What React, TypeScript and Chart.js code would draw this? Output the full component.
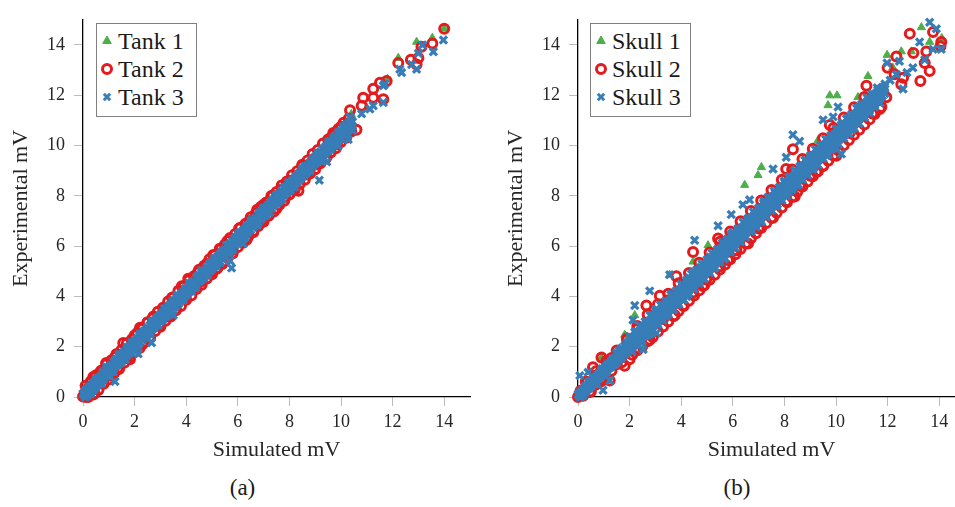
import React, { useEffect, useRef } from 'react';
import { Chart, registerables } from 'chart.js';

Chart.register(...registerables);

// ---------- data ----------
const X_TICKS = [0, 2, 4, 6, 8, 10, 12, 14];
const Y_TICKS = [0, 2, 4, 6, 8, 10, 12, 14];
const AXIS_MIN = 0;
const AXIS_MAX = 15;

const LEFT_LABELS = ['Tank 1', 'Tank 2', 'Tank 3'];
const RIGHT_LABELS = ['Skull 1', 'Skull 2', 'Skull 3'];
const CAPTIONS = ['(a)', '(b)'];
const X_TITLE = 'Simulated mV';
const Y_TITLE = 'Experimental mV';

type P = [number, number];

const TANK_1: P[] = [
  [0.1, 0.1], [0.5, 0.55], [1.0, 1.05], [1.5, 1.6], [2.0, 2.05], [2.5, 2.6], [3.0, 3.1],
  [3.5, 3.6], [4.0, 4.2], [4.5, 4.7], [5.0, 5.2], [5.5, 5.8], [6.0, 6.2], [6.5, 6.8],
  [7.0, 7.3], [7.5, 7.8], [8.0, 8.4], [8.5, 8.9], [9.0, 9.4], [9.5, 9.9], [10.0, 10.4],
  [10.4, 11.25], [11.0, 11.5], [11.8, 12.65], [12.22, 13.48], [12.93, 14.12], [13.54, 14.28],
  [14.0, 14.65],
];

const TANK_2_SPREAD: P[] = [
  [0.0, 0.02], [0.12, 0.0], [0.22, 0.38], [0.4, 0.8], [0.45, 0.15], [0.65, 0.95], [0.78, 0.55],
  [0.9, 1.35], [1.05, 0.85], [1.25, 1.6], [1.35, 1.15], [1.56, 2.15], [1.7, 1.55], [1.82, 1.5],
  [2.0, 2.45], [2.21, 2.75], [2.3, 2.1], [2.5, 2.95], [2.6, 2.4], [2.73, 3.2], [2.95, 2.85],
  [3.15, 3.55], [3.3, 3.2], [3.45, 3.95], [3.6, 3.5], [3.83, 4.4], [3.95, 3.95], [4.08, 4.7],
  [4.3, 4.3], [4.45, 4.95], [4.6, 4.6], [4.8, 5.3], [4.95, 4.95], [5.05, 5.65], [5.18, 5.1],
  [5.35, 5.9], [5.5, 5.4], [5.6, 6.2], [5.8, 5.85], [6.05, 6.7], [6.2, 6.2], [6.34, 6.25],
  [6.45, 7.0], [6.6, 6.6], [6.75, 7.45], [6.9, 6.95], [7.0, 7.65], [7.2, 7.25], [7.35, 8.0],
  [7.5, 7.5], [7.7, 8.25], [7.85, 7.95], [8.0, 8.6], [8.15, 8.3], [8.35, 8.2], [8.5, 9.2],
  [8.7, 8.85], [8.95, 9.46], [9.1, 9.25], [9.26, 9.6], [9.45, 9.55], [9.6, 10.3], [9.71, 10.43],
  [9.85, 10.05], [10.0, 10.75], [10.1, 10.35], [10.35, 11.4], [10.3, 10.55], [10.6, 10.63],
  [10.8, 11.58], [10.86, 11.9], [11.25, 11.9], [11.25, 12.26], [11.51, 12.5], [11.64, 11.84],
  [11.77, 12.57], [12.22, 13.28], [12.71, 13.41], [12.93, 13.22], [13.0, 13.48], [13.12, 13.93],
  [13.54, 14.06], [14.0, 14.64],
];
const TANK_2_RIM: P[] = [
  [0.1, 0.45], [0.3, 0.62], [0.5, 0.86], [0.7, 1.04], [0.9, 1.3], [1.1, 1.46], [1.3, 1.71],
  [1.5, 1.88], [1.7, 2.14], [1.9, 2.3], [2.1, 2.55], [2.3, 2.71], [2.5, 2.97], [2.7, 3.13],
  [2.9, 3.39], [3.1, 3.55], [3.3, 3.8], [3.5, 3.97], [3.7, 4.23], [3.9, 4.39], [4.1, 4.64],
  [4.3, 4.8], [4.5, 5.06], [4.7, 5.22], [4.9, 5.48], [5.1, 5.64], [5.3, 5.9], [5.5, 6.06],
  [5.7, 6.32], [5.9, 6.48], [6.1, 6.73], [6.3, 6.89], [6.5, 7.15], [6.7, 7.31], [6.9, 7.57],
  [7.1, 7.73], [7.3, 7.99], [7.5, 8.15], [7.7, 8.41], [7.9, 8.57], [8.1, 8.82], [8.3, 8.98],
  [8.5, 9.24], [8.7, 9.4], [8.9, 9.66], [9.1, 9.82], [9.3, 10.08], [9.5, 10.24], [9.7, 10.5],
  [9.9, 10.66], [10.1, 10.91], [10.3, 11.07],
  [0.2, 0.0], [0.4, 0.1], [0.6, 0.28], [0.8, 0.53], [1.0, 0.7], [1.2, 0.94], [1.4, 1.11],
  [1.6, 1.36], [1.8, 1.53], [2.0, 1.78], [2.2, 1.95], [2.4, 2.2], [2.6, 2.37], [2.8, 2.62],
  [3.0, 2.79], [3.2, 3.03], [3.4, 3.2], [3.6, 3.45], [3.8, 3.62], [4.0, 3.87], [4.2, 4.04],
  [4.4, 4.29], [4.6, 4.46], [4.8, 4.71], [5.0, 4.88], [5.2, 5.12], [5.4, 5.29], [5.6, 5.54],
  [5.8, 5.71], [6.0, 5.96], [6.2, 6.13], [6.4, 6.38], [6.6, 6.55], [6.8, 6.8], [7.0, 6.97],
  [7.2, 7.21], [7.4, 7.38], [7.6, 7.63], [7.8, 7.8], [8.0, 8.05], [8.2, 8.22], [8.4, 8.47],
  [8.6, 8.64], [8.8, 8.89], [9.0, 9.06], [9.2, 9.3], [9.4, 9.47], [9.6, 9.72], [9.8, 9.89],
  [10.0, 10.14], [10.2, 10.31], [10.4, 10.56],
];

const TANK_3_SPREAD: P[] = [
  [0.02, 0.14], [0.08, 0.0], [0.12, 0.31], [0.18, 0.07], [0.25, 0.41], [0.3, 0.13], [0.36, 0.47],
  [0.42, 0.29], [0.5, 0.73], [0.56, 0.49], [0.63, 0.74], [0.7, 0.53], [0.78, 1.0], [0.85, 0.83],
  [0.92, 1.18], [1.0, 0.9], [1.08, 1.25], [1.16, 1.0], [1.25, 1.46], [1.24, 0.62], [1.32, 1.29],
  [1.4, 1.7], [1.48, 1.37], [1.56, 1.69], [1.64, 1.49], [1.72, 1.98], [1.8, 1.8], [1.88, 2.17],
  [1.96, 1.9], [2.04, 2.22], [2.14, 1.72], [2.12, 2.01], [2.2, 2.52], [2.28, 2.29], [2.36, 2.62],
  [2.44, 2.37], [2.52, 2.71], [2.6, 2.5], [2.66, 2.16], [2.68, 3.01], [2.76, 2.76], [2.84, 3.12],
  [2.92, 2.85], [3.0, 3.24], [3.08, 3.07], [3.16, 3.52], [3.24, 3.31], [3.32, 3.62], [3.4, 3.34],
  [3.5, 3.25], [3.48, 3.82], [3.56, 3.63], [3.64, 4.04], [3.72, 3.74], [3.8, 4.05], [3.88, 3.85],
  [3.96, 4.32], [4.04, 4.16], [4.12, 4.52], [4.2, 4.21], [4.28, 4.59], [4.36, 4.34], [4.44, 4.79],
  [4.52, 4.63], [4.6, 5.03], [4.68, 4.74], [4.76, 5.03], [4.84, 4.85], [4.92, 5.32], [5.0, 5.15],
  [5.08, 5.52], [5.16, 5.21], [5.24, 5.6], [5.32, 5.34], [5.4, 5.79], [5.48, 5.64], [5.56, 6.03],
  [5.64, 5.74], [5.76, 5.13], [5.7, 5.42], [5.72, 6.06], [5.8, 5.85], [5.88, 6.32], [5.96, 6.15],
  [6.04, 6.52], [6.12, 6.22], [6.2, 6.6], [6.21, 6.1], [6.28, 6.34], [6.36, 6.8], [6.44, 6.64],
  [6.52, 7.02], [6.6, 6.75], [6.68, 7.06], [6.76, 6.85], [6.84, 7.33], [6.92, 7.15], [7.0, 7.53],
  [7.08, 7.22], [7.16, 7.6], [7.24, 7.35], [7.32, 7.8], [7.4, 7.64], [7.48, 8.03], [7.56, 7.75],
  [7.64, 8.06], [7.72, 7.86], [7.8, 8.33], [7.88, 8.15], [7.96, 8.53], [8.04, 8.22], [8.12, 8.61],
  [8.2, 8.35], [8.3, 8.82], [8.4, 8.69], [8.6, 9.18], [8.5, 9.09], [8.6, 8.84], [8.7, 9.17],
  [8.8, 8.99], [9.16, 8.62], [8.9, 9.45], [9.0, 9.29], [9.1, 9.69], [9.2, 9.4], [9.45, 9.35],
  [9.3, 9.84], [9.4, 9.74], [9.5, 10.14], [9.6, 9.85], [9.89, 9.98], [9.7, 10.29], [9.8, 10.15],
  [9.9, 10.53], [10.0, 10.3], [10.1, 10.76], [10.2, 10.45], [10.28, 10.24], [10.3, 10.88],
  [10.4, 10.79], [10.45, 10.6], [10.35, 11.14], [10.8, 11.26], [11.12, 11.45], [11.25, 11.58],
  [11.64, 11.71], [11.64, 12.38], [11.7, 12.45], [12.28, 13.03], [12.35, 12.9], [12.74, 13.22],
  [12.93, 13.03], [13.0, 13.67], [13.16, 14.0], [13.58, 13.73], [13.97, 14.2],
];
const TANK_3_CORE: P[] = [
  [0.05, 0.08], [0.15, 0.13], [0.25, 0.28], [0.35, 0.35], [0.45, 0.49], [0.55, 0.55], [0.65, 0.7],
  [0.75, 0.76], [0.85, 0.91], [0.95, 0.97], [1.05, 1.12], [1.15, 1.18], [1.25, 1.33], [1.35, 1.39],
  [1.45, 1.54], [1.55, 1.6], [1.65, 1.75], [1.75, 1.81], [1.85, 1.95], [1.95, 2.02], [2.05, 2.17],
  [2.15, 2.22], [2.25, 2.38], [2.35, 2.44], [2.45, 2.59], [2.55, 2.63], [2.65, 2.8], [2.75, 2.84],
  [2.85, 3.01], [2.95, 3.05], [3.05, 3.22], [3.15, 3.26], [3.25, 3.43], [3.35, 3.47], [3.45, 3.64],
  [3.55, 3.68], [3.65, 3.84], [3.75, 3.89], [3.85, 4.05], [3.95, 4.1], [4.05, 4.26], [4.15, 4.31],
  [4.25, 4.47], [4.35, 4.52], [4.45, 4.68], [4.55, 4.72], [4.65, 4.89], [4.75, 4.93], [4.85, 5.1],
  [4.95, 5.14], [5.05, 5.31], [5.15, 5.35], [5.25, 5.52], [5.35, 5.56], [5.45, 5.73], [5.55, 5.77],
  [5.65, 5.93], [5.75, 5.98], [5.85, 6.14], [5.95, 6.19], [6.05, 6.35], [6.15, 6.4], [6.25, 6.56],
  [6.35, 6.61], [6.45, 6.77], [6.55, 6.81], [6.65, 6.98], [6.75, 7.02], [6.85, 7.19], [6.95, 7.23],
  [7.05, 7.4], [7.15, 7.44], [7.25, 7.61], [7.35, 7.65], [7.45, 7.82], [7.55, 7.86], [7.65, 8.02],
  [7.75, 8.07], [7.85, 8.23], [7.95, 8.28], [8.05, 8.44], [8.15, 8.49], [8.25, 8.65], [8.35, 8.7],
  [8.45, 8.86], [8.55, 8.9], [8.65, 9.07], [8.75, 9.11], [8.85, 9.28], [8.95, 9.32], [9.05, 9.49],
  [9.15, 9.53], [9.25, 9.7], [9.35, 9.74], [9.45, 9.91], [9.55, 9.95], [9.65, 10.11], [9.75, 10.16],
  [9.85, 10.32], [9.95, 10.37], [10.05, 10.53], [10.15, 10.58], [10.25, 10.74], [10.35, 10.79],
  [10.45, 10.95],
  [0.0, 0.13], [0.1, 0.25], [0.2, 0.34], [0.3, 0.42], [0.4, 0.55], [0.5, 0.66], [0.6, 0.76],
  [0.7, 0.85], [0.8, 0.97], [0.9, 1.08], [1.0, 1.18], [1.1, 1.27], [1.2, 1.38], [1.3, 1.5],
  [1.4, 1.59], [1.5, 1.69], [1.6, 1.8], [1.7, 1.92], [1.8, 2.01], [1.9, 2.11], [2.0, 2.22],
  [2.1, 2.33], [2.2, 2.43], [2.3, 2.52], [2.4, 2.64], [2.5, 2.75], [2.6, 2.85], [2.7, 2.94],
  [2.8, 3.06], [2.9, 3.17], [3.0, 3.27], [3.1, 3.36], [3.2, 3.47], [3.3, 3.59], [3.4, 3.68],
  [3.5, 3.78], [3.6, 3.89], [3.7, 4.01], [3.8, 4.1], [3.9, 4.2], [4.0, 4.31], [4.1, 4.42],
  [4.2, 4.52], [4.3, 4.61], [4.4, 4.73], [4.5, 4.84], [4.6, 4.94], [4.7, 5.03], [4.8, 5.15],
  [4.9, 5.26], [5.0, 5.36], [5.1, 5.45], [5.2, 5.56], [5.3, 5.68], [5.4, 5.77], [5.5, 5.87],
  [5.6, 5.98], [5.7, 6.1], [5.8, 6.19], [5.9, 6.29], [6.0, 6.4], [6.1, 6.51], [6.2, 6.61],
  [6.3, 6.7], [6.4, 6.82], [6.5, 6.93], [6.6, 7.03], [6.7, 7.12], [6.8, 7.24], [6.9, 7.35],
  [7.0, 7.45], [7.1, 7.54], [7.2, 7.65], [7.3, 7.77], [7.4, 7.86], [7.5, 7.96], [7.6, 8.07],
  [7.7, 8.19], [7.8, 8.28], [7.9, 8.38], [8.0, 8.49], [8.1, 8.6], [8.2, 8.7], [8.3, 8.79],
  [8.4, 8.91], [8.5, 9.02], [8.6, 9.12], [8.7, 9.21], [8.8, 9.33], [8.9, 9.44], [9.0, 9.54],
  [9.1, 9.63], [9.2, 9.74], [9.3, 9.86], [9.4, 9.95], [9.5, 10.05], [9.6, 10.16], [9.7, 10.28],
  [9.8, 10.37], [9.9, 10.47], [10.0, 10.58], [10.1, 10.69], [10.2, 10.79], [10.3, 10.88],
  [10.4, 11.0],
  [0.1, 0.0], [0.2, 0.08], [0.3, 0.19], [0.4, 0.28], [0.5, 0.39], [0.6, 0.51], [0.7, 0.6],
  [0.8, 0.7], [0.9, 0.82], [1.0, 0.93], [1.1, 1.01], [1.2, 1.12], [1.3, 1.24], [1.4, 1.33],
  [1.5, 1.43], [1.6, 1.55], [1.7, 1.66], [1.8, 1.74], [1.9, 1.85], [2.0, 1.97], [2.1, 2.07],
  [2.2, 2.16], [2.3, 2.28], [2.4, 2.39], [2.5, 2.47], [2.6, 2.58], [2.7, 2.7], [2.8, 2.81],
  [2.9, 2.89], [3.0, 3.0], [3.1, 3.12], [3.2, 3.2], [3.3, 3.31], [3.4, 3.43], [3.5, 3.54],
  [3.6, 3.62], [3.7, 3.73], [3.8, 3.85], [3.9, 3.94], [4.0, 4.04], [4.1, 4.16], [4.2, 4.27],
  [4.3, 4.35], [4.4, 4.46], [4.5, 4.58], [4.6, 4.67], [4.7, 4.77], [4.8, 4.89], [4.9, 5.0],
  [5.0, 5.08], [5.1, 5.19], [5.2, 5.31], [5.3, 5.4], [5.4, 5.5], [5.5, 5.62], [5.6, 5.73],
  [5.7, 5.81], [5.8, 5.92], [5.9, 6.04], [6.0, 6.13], [6.1, 6.23], [6.2, 6.35], [6.3, 6.46],
  [6.4, 6.54], [6.5, 6.65], [6.6, 6.77], [6.7, 6.86], [6.8, 6.96], [6.9, 7.08], [7.0, 7.2],
  [7.1, 7.28], [7.2, 7.38], [7.3, 7.5], [7.4, 7.61], [7.5, 7.7], [7.6, 7.8], [7.7, 7.92],
  [7.8, 8.03], [7.9, 8.12], [8.0, 8.22], [8.1, 8.34], [8.2, 8.45], [8.3, 8.53], [8.4, 8.64],
  [8.5, 8.76], [8.6, 8.87], [8.7, 8.95], [8.8, 9.06], [8.9, 9.18], [9.0, 9.29], [9.1, 9.37],
  [9.2, 9.47], [9.3, 9.6], [9.4, 9.7], [9.5, 9.79], [9.6, 9.89], [9.7, 10.02], [9.8, 10.12],
  [9.9, 10.21], [10.0, 10.31], [10.1, 10.43], [10.2, 10.54], [10.3, 10.62], [10.4, 10.73],
];

const SKULL_1: P[] = [
  [0.05, 0.05], [0.3, 0.35], [0.6, 0.75], [0.91, 1.57], [1.2, 1.3], [1.5, 1.7], [1.81, 2.47],
  [2.2, 3.25], [2.52, 1.89], [2.6, 2.8], [3.0, 3.2], [3.55, 4.86], [3.8, 4.0], [4.2, 4.5],
  [4.46, 5.38], [5.04, 6.03], [5.3, 5.6], [5.8, 6.1], [6.2, 6.5], [6.46, 8.43], [6.98, 8.82],
  [7.11, 9.14], [7.4, 7.8], [7.9, 8.3], [8.5, 8.9], [9.0, 9.5], [9.3, 10.2], [9.69, 11.6],
  [9.76, 11.99], [10.04, 11.99], [10.3, 10.8], [10.85, 11.92], [11.24, 12.76], [11.98, 13.6],
  [12.2, 13.1], [12.53, 13.74], [12.92, 13.74], [13.31, 14.7], [13.63, 14.12], [14.1, 14.27],
];

const SKULL_2_SPREAD: P[] = [
  [0.0, 0.0], [0.1, 0.25], [0.2, 0.05], [0.35, 0.6], [0.45, 0.2], [0.58, 1.18], [0.7, 0.5],
  [0.91, 1.57], [1.0, 0.75], [1.23, 0.66], [1.3, 1.55], [1.5, 1.3], [1.81, 1.24], [2.0, 1.5],
  [1.9, 2.3], [2.2, 1.89], [2.3, 2.7], [2.65, 3.64], [2.78, 2.28], [2.9, 3.1], [3.17, 4.03],
  [3.3, 3.1], [3.5, 3.85], [3.75, 3.25], [3.81, 4.8], [4.07, 3.64], [4.1, 4.4], [4.46, 4.16],
  [4.46, 5.77], [4.7, 5.0], [4.84, 4.41], [4.97, 4.67], [5.2, 5.5], [5.43, 6.3], [5.5, 5.2],
  [5.81, 5.45], [5.9, 6.2], [6.14, 5.84], [6.3, 6.6], [6.59, 6.1], [6.8, 7.1], [7.0, 6.7],
  [7.3, 7.7], [7.56, 7.13], [7.8, 8.1], [8.07, 7.78], [8.07, 9.07], [8.33, 9.85], [8.4, 7.97],
  [8.6, 8.4], [8.8, 9.2], [9.0, 8.8], [9.24, 8.95], [9.3, 9.7], [9.5, 9.2], [9.76, 10.82],
  [9.8, 10.1], [10.01, 9.59], [10.2, 10.6], [10.53, 10.5], [10.7, 10.9], [11.0, 11.5],
  [11.18, 12.38], [11.41, 11.27], [11.76, 11.53], [11.95, 11.92], [12.0, 13.09], [12.34, 13.54],
  [12.27, 12.83], [12.6, 12.7], [12.53, 12.44], [12.86, 14.45], [13.0, 13.68], [13.27, 12.57],
  [13.44, 13.28], [13.5, 13.74], [13.63, 12.96], [13.76, 14.51], [14.08, 14.12], [14.05, 13.95],
];
const SKULL_2_RIM: P[] = [
  [0.3, 0.61], [0.7, 1.02], [1.1, 1.43], [1.5, 1.85], [1.9, 2.33], [2.3, 2.82], [2.7, 3.28],
  [3.1, 3.69], [3.5, 4.11], [3.9, 4.52], [4.3, 4.93], [4.7, 5.34], [5.1, 5.75], [5.5, 6.17],
  [5.9, 6.58], [6.3, 6.99], [6.7, 7.4], [7.1, 7.81], [7.5, 8.23], [7.9, 8.64], [8.3, 9.05],
  [8.7, 9.46], [9.1, 9.87], [9.5, 10.29], [9.9, 10.7], [10.3, 11.11], [10.7, 11.52], [11.1, 11.93],
  [0.5, 0.22], [0.9, 0.63], [1.3, 1.04], [1.7, 1.38], [2.1, 1.68], [2.5, 2.03], [2.9, 2.39],
  [3.3, 2.8], [3.7, 3.21], [4.1, 3.62], [4.5, 4.04], [4.9, 4.45], [5.3, 4.86], [5.7, 5.27],
  [6.1, 5.68], [6.5, 6.1], [6.9, 6.51], [7.3, 6.92], [7.7, 7.33], [8.1, 7.74], [8.5, 8.16],
  [8.9, 8.57], [9.3, 8.98], [9.7, 9.39], [10.1, 9.8], [10.5, 10.22], [10.9, 10.63], [11.3, 11.04],
  [11.7, 11.45],
  [2.3, 1.86], [2.7, 2.22], [3.1, 2.6], [3.5, 3.0], [3.9, 3.42], [4.3, 3.83], [4.7, 4.24],
  [5.1, 4.66], [5.5, 5.07], [5.9, 5.48], [6.3, 5.89], [6.7, 6.31], [7.1, 6.72], [7.5, 7.13],
  [7.9, 7.54], [8.3, 7.95], [8.7, 8.37], [9.1, 8.78], [9.5, 9.19], [9.9, 9.6], [10.3, 10.01],
  [10.7, 10.43], [11.1, 10.84], [11.5, 11.25],
];

const SKULL_3_SPREAD: P[] = [
  [0.02, 0.12], [0.08, 0.0], [0.14, 0.19], [0.2, 0.06], [0.27, 0.43], [0.34, 0.3], [0.41, 0.6],
  [0.48, 0.39], [0.55, 0.57], [0.62, 0.76], [0.7, 0.57], [0.78, 0.88], [0.86, 0.81], [0.94, 1.12],
  [1.02, 1.02], [1.1, 0.98], [1.18, 1.32], [1.26, 1.18], [1.34, 1.43], [1.42, 1.28], [1.5, 1.7],
  [1.58, 1.58], [1.66, 1.89], [1.74, 1.69], [1.82, 1.87], [1.9, 2.08], [1.98, 1.89], [2.06, 2.27],
  [2.15, 2.06], [2.24, 2.61], [2.33, 2.35], [2.42, 2.19], [2.51, 2.79], [2.6, 2.43], [2.69, 2.87],
  [2.78, 2.51], [2.87, 3.26], [2.96, 2.95], [3.05, 3.49], [3.14, 3.03], [3.23, 3.33], [3.32, 3.67],
  [3.41, 3.21], [3.5, 3.76], [3.59, 3.55], [3.68, 4.09], [3.77, 3.83], [3.86, 3.68], [3.95, 4.27],
  [4.04, 3.91], [4.13, 4.35], [4.22, 4.0], [4.31, 4.74], [4.4, 4.43], [4.49, 4.97], [4.58, 4.52],
  [4.67, 4.81], [4.76, 5.15], [4.85, 4.7], [4.94, 5.24], [5.03, 5.03], [5.12, 5.57], [5.21, 5.32],
  [5.3, 5.16], [5.39, 5.75], [5.48, 5.39], [5.57, 5.84], [5.66, 5.48], [5.75, 6.22], [5.84, 5.92],
  [5.93, 6.46], [6.02, 6.0], [6.11, 6.29], [6.2, 6.64], [6.29, 6.18], [6.38, 6.72], [6.47, 6.51],
  [6.56, 7.06], [6.65, 6.8], [6.74, 6.64], [6.83, 7.23], [6.92, 6.88], [7.01, 7.32], [7.1, 6.96],
  [7.19, 7.71], [7.28, 7.4], [7.37, 7.94], [7.46, 7.48], [7.55, 7.78], [7.64, 8.12], [7.73, 7.66],
  [7.82, 8.2], [7.91, 8.0], [8.0, 8.54], [8.09, 8.28], [8.18, 8.13], [8.27, 8.72], [8.36, 8.36],
  [8.45, 8.8], [8.54, 8.45], [8.63, 9.19], [8.72, 8.88], [8.81, 9.42], [8.9, 8.97], [8.99, 9.26],
  [9.08, 9.6], [9.17, 9.15], [9.26, 9.69], [9.35, 9.48], [9.44, 10.02], [9.53, 9.77], [9.62, 9.61],
  [9.71, 10.2], [9.8, 9.84], [9.89, 10.29], [9.98, 9.93], [10.07, 10.67], [10.16, 10.36],
  [10.25, 10.91], [10.34, 10.45], [10.43, 10.74], [10.52, 11.09], [10.61, 10.63], [10.7, 11.17],
  [10.8, 10.97], [10.9, 11.53], [11.0, 11.28], [11.1, 11.13], [11.2, 11.74], [11.3, 11.39],
  [11.4, 11.84], [11.5, 11.6], [11.62, 12.22], [11.75, 12.0], [11.88, 12.34],
  [0.07, 0.85], [0.39, 0.98], [0.97, 0.27], [1.23, 0.66], [2.2, 3.64], [2.13, 3.06], [2.78, 4.22],
  [3.55, 4.86], [3.04, 2.54], [2.52, 1.89], [4.52, 6.23], [5.43, 6.81], [5.94, 7.26], [6.39, 7.65],
  [6.65, 7.84], [7.56, 9.07], [8.07, 9.53], [8.33, 10.43], [8.59, 10.17], [9.5, 11.02],
  [9.89, 11.14], [10.08, 11.53], [10.21, 9.66], [11.98, 13.28], [12.46, 13.35], [12.6, 12.25],
  [12.34, 12.83], [12.98, 13.09], [13.24, 14.12], [13.44, 13.41], [13.63, 14.9], [13.89, 14.64],
  [13.76, 13.83], [14.08, 13.83], [12.1, 12.6], [12.75, 12.9],
];
const SKULL_3_CORE: P[] = [
  [0.05, 0.1], [0.15, 0.1], [0.25, 0.3], [0.35, 0.31], [0.45, 0.52], [0.55, 0.5], [0.65, 0.74],
  [0.75, 0.71], [0.85, 0.95], [0.95, 0.92], [1.05, 1.15], [1.15, 1.12], [1.25, 1.36], [1.35, 1.33],
  [1.45, 1.56], [1.55, 1.53], [1.65, 1.77], [1.75, 1.74], [1.85, 1.98], [1.95, 1.95], [2.05, 2.25],
  [2.15, 2.08], [2.25, 2.46], [2.35, 2.29], [2.45, 2.66], [2.55, 2.5], [2.65, 2.87], [2.75, 2.7],
  [2.85, 3.08], [2.95, 2.91], [3.05, 3.28], [3.15, 3.11], [3.25, 3.49], [3.35, 3.32], [3.45, 3.69],
  [3.55, 3.53], [3.65, 3.9], [3.75, 3.73], [3.85, 4.11], [3.95, 3.94], [4.05, 4.31], [4.15, 4.14],
  [4.25, 4.52], [4.35, 4.35], [4.45, 4.72], [4.55, 4.56], [4.65, 4.93], [4.75, 4.76], [4.85, 5.14],
  [4.95, 4.97], [5.05, 5.34], [5.15, 5.17], [5.25, 5.55], [5.35, 5.38], [5.45, 5.75], [5.55, 5.59],
  [5.65, 5.96], [5.75, 5.79], [5.85, 6.17], [5.95, 6.0], [6.05, 6.37], [6.15, 6.2], [6.25, 6.58],
  [6.35, 6.41], [6.45, 6.78], [6.55, 6.62], [6.65, 6.99], [6.75, 6.82], [6.85, 7.2], [6.95, 7.03],
  [7.05, 7.4], [7.15, 7.23], [7.25, 7.61], [7.35, 7.44], [7.45, 7.81], [7.55, 7.65], [7.65, 8.02],
  [7.75, 7.85], [7.85, 8.23], [7.95, 8.06], [8.05, 8.43], [8.15, 8.26], [8.25, 8.64], [8.35, 8.47],
  [8.45, 8.84], [8.55, 8.68], [8.65, 9.05], [8.75, 8.88], [8.85, 9.26], [8.95, 9.09], [9.05, 9.46],
  [9.15, 9.29], [9.25, 9.67], [9.35, 9.5], [9.45, 9.87], [9.55, 9.71], [9.65, 10.08], [9.75, 9.91],
  [9.85, 10.29], [9.95, 10.12], [10.05, 10.49], [10.15, 10.32], [10.25, 10.7], [10.35, 10.53],
  [10.45, 10.9], [10.55, 10.74], [10.65, 11.11], [10.75, 10.94], [10.85, 11.32], [10.95, 11.15],
  [11.05, 11.52], [11.15, 11.35], [11.25, 11.73], [11.35, 11.56], [11.45, 11.93], [11.55, 11.77],
  [11.65, 12.14], [11.75, 11.97],
  [0.0, 0.1], [0.1, 0.21], [0.2, 0.3], [0.3, 0.42], [0.4, 0.5], [0.5, 0.63], [0.6, 0.71],
  [0.7, 0.83], [0.8, 0.91], [0.9, 1.04], [1.0, 1.12], [1.1, 1.24], [1.2, 1.33], [1.3, 1.45],
  [1.4, 1.53], [1.5, 1.74], [1.6, 1.82], [1.7, 1.94], [1.8, 2.02], [1.9, 2.15], [2.0, 2.23],
  [2.1, 2.35], [2.2, 2.44], [2.3, 2.56], [2.4, 2.64], [2.5, 2.77], [2.6, 2.85], [2.7, 2.97],
  [2.8, 3.05], [2.9, 3.18], [3.0, 3.26], [3.1, 3.38], [3.2, 3.47], [3.3, 3.59], [3.4, 3.67],
  [3.5, 3.8], [3.6, 3.88], [3.7, 4.0], [3.8, 4.08], [3.9, 4.21], [4.0, 4.29], [4.1, 4.41],
  [4.2, 4.5], [4.3, 4.62], [4.4, 4.7], [4.5, 4.83], [4.6, 4.91], [4.7, 5.03], [4.8, 5.11],
  [4.9, 5.24], [5.0, 5.32], [5.1, 5.44], [5.2, 5.53], [5.3, 5.65], [5.4, 5.73], [5.5, 5.86],
  [5.6, 5.94], [5.7, 6.06], [5.8, 6.14], [5.9, 6.27], [6.0, 6.35], [6.1, 6.47], [6.2, 6.56],
  [6.3, 6.68], [6.4, 6.76], [6.5, 6.89], [6.6, 6.97], [6.7, 7.09], [6.8, 7.17], [6.9, 7.3],
  [7.0, 7.38], [7.1, 7.5], [7.2, 7.59], [7.3, 7.71], [7.4, 7.79], [7.5, 7.92], [7.6, 8.0],
  [7.7, 8.12], [7.8, 8.2], [7.9, 8.33], [8.0, 8.41], [8.1, 8.53], [8.2, 8.62], [8.3, 8.74],
  [8.4, 8.82], [8.5, 8.95], [8.6, 9.03], [8.7, 9.15], [8.8, 9.23], [8.9, 9.36], [9.0, 9.44],
  [9.1, 9.56], [9.2, 9.65], [9.3, 9.77], [9.4, 9.85], [9.5, 9.98], [9.6, 10.06], [9.7, 10.18],
  [9.8, 10.26], [9.9, 10.39], [10.0, 10.47], [10.1, 10.59], [10.2, 10.68], [10.3, 10.8],
  [10.4, 10.88], [10.5, 11.01], [10.6, 11.09], [10.7, 11.21], [10.8, 11.29], [10.9, 11.42],
  [11.0, 11.5], [11.1, 11.62], [11.2, 11.71], [11.3, 11.83], [11.4, 11.91], [11.5, 12.04],
  [11.6, 12.12], [11.7, 12.24], [11.8, 12.32], [11.9, 12.45],
  [0.1, 0.0], [0.2, 0.12], [0.3, 0.2], [0.4, 0.32], [0.5, 0.41], [0.6, 0.53], [0.7, 0.61],
  [0.8, 0.73], [0.9, 0.82], [1.0, 0.94], [1.1, 1.02], [1.2, 1.15], [1.3, 1.23], [1.4, 1.35],
  [1.5, 1.36], [1.6, 1.48], [1.7, 1.56], [1.8, 1.68], [1.9, 1.77], [2.0, 1.89], [2.1, 1.97],
  [2.2, 2.1], [2.3, 2.18], [2.4, 2.3], [2.5, 2.39], [2.6, 2.51], [2.7, 2.59], [2.8, 2.71],
  [2.9, 2.8], [3.0, 2.92], [3.1, 3.0], [3.2, 3.13], [3.3, 3.21], [3.4, 3.33], [3.5, 3.42],
  [3.6, 3.54], [3.7, 3.62], [3.8, 3.74], [3.9, 3.83], [4.0, 3.95], [4.1, 4.03], [4.2, 4.16],
  [4.3, 4.24], [4.4, 4.36], [4.5, 4.45], [4.6, 4.57], [4.7, 4.65], [4.8, 4.77], [4.9, 4.86],
  [5.0, 4.98], [5.1, 5.06], [5.2, 5.19], [5.3, 5.27], [5.4, 5.39], [5.5, 5.48], [5.6, 5.6],
  [5.7, 5.68], [5.8, 5.8], [5.9, 5.89], [6.0, 6.01], [6.1, 6.09], [6.2, 6.22], [6.3, 6.3],
  [6.4, 6.42], [6.5, 6.51], [6.6, 6.63], [6.7, 6.71], [6.8, 6.83], [6.9, 6.92], [7.0, 7.04],
  [7.1, 7.12], [7.2, 7.25], [7.3, 7.33], [7.4, 7.45], [7.5, 7.54], [7.6, 7.66], [7.7, 7.74],
  [7.8, 7.86], [7.9, 7.95], [8.0, 8.07], [8.1, 8.15], [8.2, 8.28], [8.3, 8.36], [8.4, 8.48],
  [8.5, 8.57], [8.6, 8.69], [8.7, 8.77], [8.8, 8.89], [8.9, 8.98], [9.0, 9.1], [9.1, 9.18],
  [9.2, 9.31], [9.3, 9.39], [9.4, 9.51], [9.5, 9.6], [9.6, 9.72], [9.7, 9.8], [9.8, 9.92],
  [9.9, 10.01], [10.0, 10.13], [10.1, 10.21], [10.2, 10.34], [10.3, 10.42], [10.4, 10.54],
  [10.5, 10.63], [10.6, 10.75], [10.7, 10.83], [10.8, 10.95], [10.9, 11.04], [11.0, 11.16],
  [11.1, 11.24], [11.2, 11.37], [11.3, 11.45], [11.4, 11.57], [11.5, 11.66], [11.6, 11.78],
  [11.7, 11.86], [11.8, 11.98], [11.9, 12.07],
];
const SKULL_3_EDGE: P[] = [
  [2.0, 2.41], [2.2, 2.58], [2.4, 2.83], [2.6, 2.99], [2.8, 3.24], [3.0, 3.4], [3.2, 3.66],
  [3.4, 3.81], [3.6, 4.07], [3.8, 4.22], [4.0, 4.48], [4.2, 4.63], [4.4, 4.89], [4.6, 5.05],
  [4.8, 5.3], [5.0, 5.46], [5.2, 5.72], [5.4, 5.87], [5.6, 6.13], [5.8, 6.28], [6.0, 6.54],
  [6.2, 6.7], [6.4, 6.95], [6.6, 7.11], [6.8, 7.36], [7.0, 7.52], [7.2, 7.78], [7.4, 7.93],
  [7.6, 8.19], [7.8, 8.34], [8.0, 8.6], [8.2, 8.76], [8.4, 9.01], [8.6, 9.17], [8.8, 9.42],
  [9.0, 9.58], [9.2, 9.84], [9.4, 9.99], [9.6, 10.25], [9.8, 10.4], [10.0, 10.66], [10.2, 10.82],
  [10.4, 11.07], [10.6, 11.23], [10.8, 11.48], [11.0, 11.64], [11.2, 11.9], [11.4, 12.05],
  [11.6, 12.3],
  [2.1, 1.81], [2.3, 2.06], [2.5, 2.23], [2.7, 2.47], [2.9, 2.64], [3.1, 2.88], [3.3, 3.05],
  [3.5, 3.3], [3.7, 3.46], [3.9, 3.71], [4.1, 3.87], [4.3, 4.12], [4.5, 4.29], [4.7, 4.53],
  [4.9, 4.7], [5.1, 4.94], [5.3, 5.11], [5.5, 5.36], [5.7, 5.52], [5.9, 5.77], [6.1, 5.93],
  [6.3, 6.18], [6.5, 6.35], [6.7, 6.59], [6.9, 6.76], [7.1, 7.0], [7.3, 7.17], [7.5, 7.42],
  [7.7, 7.58], [7.9, 7.83], [8.1, 7.99], [8.3, 8.24], [8.5, 8.41], [8.7, 8.65], [8.9, 8.82],
  [9.1, 9.06], [9.3, 9.23], [9.5, 9.48], [9.7, 9.64], [9.9, 9.89], [10.1, 10.05], [10.3, 10.3],
  [10.5, 10.47], [10.7, 10.71], [10.9, 10.88], [11.1, 11.12], [11.3, 11.29], [11.5, 11.54],
  [11.7, 11.7],
];

const TANK_2: P[] = [...TANK_2_SPREAD, ...TANK_2_RIM];
const TANK_3: P[] = [...TANK_3_SPREAD, ...TANK_3_CORE];
const SKULL_2: P[] = [...SKULL_2_SPREAD, ...SKULL_2_RIM];
const SKULL_3: P[] = [...SKULL_3_SPREAD, ...SKULL_3_CORE, ...SKULL_3_EDGE];

// ---------- styles ----------
const FONT = "'Liberation Serif', 'Times New Roman', serif";
const GREEN = '#4daf4a';
const RED = '#e41a1c';
const BLUE = '#377eb8';
const TEXT = '#262626';

function makeConfig(labels: string[], s1: P[], s2: P[], s3: P[]): any {
  const toPts = (arr: P[]) => arr.map(([x, y]) => ({ x, y }));
  const axisCommon = {
    type: 'linear',
    min: AXIS_MIN,
    max: AXIS_MAX,
    grid: { drawOnChartArea: false, drawTicks: true, tickLength: 9, tickColor: '#bdbdbd', tickWidth: 1 },
    border: { display: true, color: '#000', width: 1.3 },
  };
  return {
    type: 'scatter',
    data: {
      datasets: [
        {
          label: labels[0], data: toPts(s1), order: 3, clip: false,
          pointStyle: 'triangle', pointRadius: 4.7,
          pointBackgroundColor: GREEN, pointBorderColor: GREEN, pointBorderWidth: 1,
        },
        {
          label: labels[1], data: toPts(s2), order: 2, clip: false,
          pointStyle: 'circle', pointRadius: 4.5,
          pointBackgroundColor: 'rgba(0,0,0,0)', pointBorderColor: RED, pointBorderWidth: 3,
        },
        {
          label: labels[2], data: toPts(s3), order: 1, clip: false,
          pointStyle: 'crossRot', pointRadius: 5.1,
          pointBackgroundColor: BLUE, pointBorderColor: BLUE, pointBorderWidth: 3.2,
        },
      ],
    },
    options: {
      responsive: false,
      animation: false,
      events: [],
      layout: { padding: { top: 11, right: 10, bottom: 0, left: 0 }, autoPadding: false },
      plugins: { legend: { display: false }, tooltip: { enabled: false } },
      scales: {
        x: {
          ...axisCommon,
          afterBuildTicks: (s: any) => { s.ticks = X_TICKS.map((v) => ({ value: v })); },
          afterFit: (s: any) => { s.height = 73; },
          ticks: { font: { family: FONT, size: 18 }, color: TEXT, padding: 5 },
          title: { display: true, text: X_TITLE, color: TEXT, font: { family: FONT, size: 22 }, padding: { top: 0, bottom: 7 } },
        },
        y: {
          ...axisCommon,
          afterBuildTicks: (s: any) => { s.ticks = Y_TICKS.map((v) => ({ value: v })); },
          afterFit: (s: any) => { s.width = 83; },
          ticks: { font: { family: FONT, size: 18 }, color: TEXT, padding: 9 },
          title: { display: true, text: Y_TITLE, color: TEXT, font: { family: FONT, size: 22 }, padding: { top: 8, bottom: 0 } },
        },
      },
    },
  };
}

function ScatterPanel(props: { left: number; labels: string[]; s1: P[]; s2: P[]; s3: P[] }) {
  const ref = useRef<HTMLCanvasElement | null>(null);
  useEffect(() => {
    if (!ref.current) return;
    const chart = new Chart(ref.current, makeConfig(props.labels, props.s1, props.s2, props.s3));
    return () => chart.destroy();
  }, []);
  return (
    <canvas
      ref={ref}
      width={480}
      height={470}
      style={{ position: 'absolute', left: props.left, top: 0, width: 480, height: 470 }}
    />
  );
}

function Marker({ kind }: { kind: number }) {
  if (kind === 0) {
    return (
      <svg width="14" height="14" viewBox="0 0 14 14">
        <polygon points="7,2 11.3,9.5 2.7,9.5" fill={GREEN} stroke={GREEN} strokeWidth="1" />
      </svg>
    );
  }
  if (kind === 1) {
    return (
      <svg width="14" height="14" viewBox="0 0 14 14">
        <circle cx="7" cy="7" r="4.5" fill="none" stroke={RED} strokeWidth="3" />
      </svg>
    );
  }
  return (
    <svg width="14" height="14" viewBox="0 0 14 14">
      <line x1="3.8" y1="3.8" x2="10.2" y2="10.2" stroke={BLUE} strokeWidth="3" />
      <line x1="10.2" y1="3.8" x2="3.8" y2="10.2" stroke={BLUE} strokeWidth="3" />
    </svg>
  );
}

function Legend({ left, labels }: { left: number; labels: string[] }) {
  const rows = [40.5, 68.7, 97];
  return (
    <div
      style={{
        position: 'absolute', left, top: 23, width: 101, height: 94, boxSizing: 'border-box',
        border: '1px solid #808080', background: '#fff',
      }}
    >
      {labels.map((lab, i) => (
        <React.Fragment key={lab}>
          <div style={{ position: 'absolute', left: 11 - 7 - 1, top: rows[i] - 23 - 7 - 1, width: 14, height: 14 }}>
            <Marker kind={i} />
          </div>
          <span
            style={{
              position: 'absolute', left: 21, top: rows[i] - 23 - 12 - 1, fontFamily: FONT, fontSize: 24,
              lineHeight: '24px', color: '#1a1a1a', whiteSpace: 'nowrap',
            }}
          >
            {lab}
          </span>
        </React.Fragment>
      ))}
    </div>
  );
}

export default function App() {
  return (
    <div style={{ position: 'fixed', left: 0, top: 0, width: 955, height: 507, overflow: 'hidden', background: '#fff' }}>
      <ScatterPanel left={0} labels={LEFT_LABELS} s1={TANK_1} s2={TANK_2} s3={TANK_3} />
      <ScatterPanel left={495} labels={RIGHT_LABELS} s1={SKULL_1} s2={SKULL_2} s3={SKULL_3} />
      <Legend left={96} labels={LEFT_LABELS} />
      <Legend left={590} labels={RIGHT_LABELS} />
      {CAPTIONS.map((c, i) => (
        <div
          key={c}
          style={{
            position: 'absolute', left: (i === 0 ? 242.5 : 737) - 40, width: 80, top: 488 - 13, textAlign: 'center',
            fontFamily: FONT, fontSize: 23, lineHeight: '26px', color: '#1a1a1a',
          }}
        >
          {c}
        </div>
      ))}
    </div>
  );
}
